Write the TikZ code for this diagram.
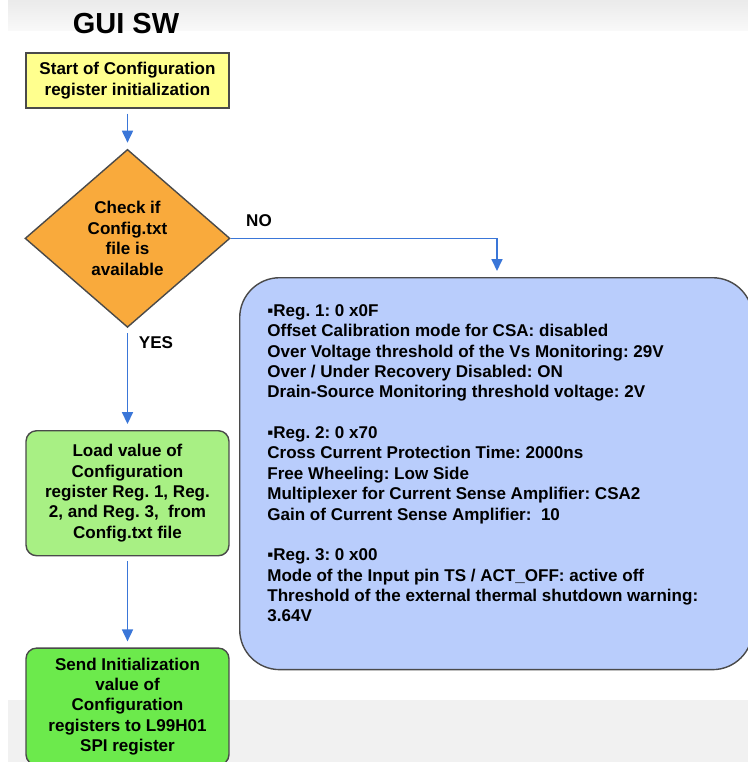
\documentclass[tikz,border=0pt]{standalone}
\usepackage{fontspec}
\setmainfont{Liberation Sans}
\frenchspacing
\usetikzlibrary{positioning,arrows.meta,shapes.geometric}
\definecolor{startyel}{HTML}{FFFF8E}
\definecolor{checkorg}{HTML}{F9AA3C}
\definecolor{loadgrn}{HTML}{A8F084}
\definecolor{sendgrn}{HTML}{6CEA4C}
\definecolor{regblue}{HTML}{B9CDFC}
\definecolor{edgegray}{HTML}{4A4A4A}
\definecolor{arrblue}{HTML}{3A76D8}
\definecolor{bandgray}{HTML}{F1F1F1}

\begin{document}
\begin{tikzpicture}[x=0.02cm, y=-0.02cm,
  txt/.style={font=\fontsize{9.7}{11.6}\selectfont\bfseries, align=center},
  startbox/.style={draw=edgegray, line width=0.8pt, fill=startyel, txt, minimum width=4.06cm, minimum height=1.1cm, inner sep=0pt},
  check/.style={draw=edgegray, line width=0.8pt, fill=checkorg, diamond, txt, minimum width=4.1cm, minimum height=3.56cm, inner sep=0pt},
  loadbox/.style={draw=edgegray, line width=0.8pt, rounded corners=6pt, fill=loadgrn, txt, minimum width=4.06cm, minimum height=2.5cm, inner sep=0pt},
  sendbox/.style={loadbox, fill=sendgrn, minimum height=2.34cm},
  regbox/.style={draw=edgegray, line width=0.8pt, fill=regblue, rounded corners=0.8cm, minimum width=10.26cm, minimum height=7.84cm, inner sep=0pt},
  regtext/.style={font=\fontsize{9.7}{11.6}\selectfont\bfseries, align=left, inner sep=0pt},
  lbl/.style={font=\fontsize{9.7}{11.6}\selectfont\bfseries, inner sep=0pt},
  arr/.style={-{Triangle[length=2.4mm,width=2.2mm]}, draw=arrblue, line width=1pt, shorten >=1.2mm, shorten <=1mm},
  node distance=0.8cm
]
  \useasboundingbox (0,0) rectangle (748,762);
  % page bands
  \shade[top color=gray!16, bottom color=gray!5] (8,0) rectangle (748,30);
  \fill[bandgray] (8,700) rectangle (748,762);

  \node[font=\fontsize{16.5}{19}\selectfont\bfseries] (title) at (126,24) {GUI SW};

  \node[startbox] (start) at (127.5,80.5) {Start of Configuration\\register initialization};
  \node[check, below=0.8cm of start] (cfg) {Check if\\Config.txt\\file is\\available};
  \node[loadbox, below=2.04cm of cfg] (load) {Load value of\\Configuration\\register Reg. 1, Reg.\\2, and Reg. 3,\ \ from\\Config.txt file};
  \node[sendbox, below=1.82cm of load] (send) {Send Initialization\\value of\\Configuration\\registers to L99H01\\SPI register};

  \node[regbox, anchor=north west] (regs) at (239,277) {};
  \node[regtext, anchor=north west] (regtxt) at (267,304) {%
    ▪Reg. 1: 0 x0F\\
    Offset Calibration mode for CSA: disabled\\
    Over Voltage threshold of the Vs Monitoring: 29V\\
    Over / Under Recovery Disabled: ON\\
    Drain-Source Monitoring threshold voltage: 2V\\[11.6pt]
    ▪Reg. 2: 0 x70\\
    Cross Current Protection Time: 2000ns\\
    Free Wheeling: Low Side\\
    Multiplexer for Current Sense Amplifier: CSA2\\
    Gain of Current Sense Amplifier:\ \ 10\\[11.6pt]
    ▪Reg. 3: 0 x00\\
    Mode of the Input pin TS / ACT\_OFF: active off\\
    Threshold of the external thermal shutdown warning:\\
    3.64V};

  \coordinate (noend) at (497,277);
  \node[lbl] (no) at (259,221) {NO};
  \node[lbl] (yes) at (156,343) {YES};

  \draw[arr] (start) -- (cfg);
  \draw[arr, shorten <=0pt] (cfg.east) -| (noend);
  \draw[arr] (cfg) -- (load);
  \draw[arr] (load) -- (send);
\end{tikzpicture}
\end{document}
